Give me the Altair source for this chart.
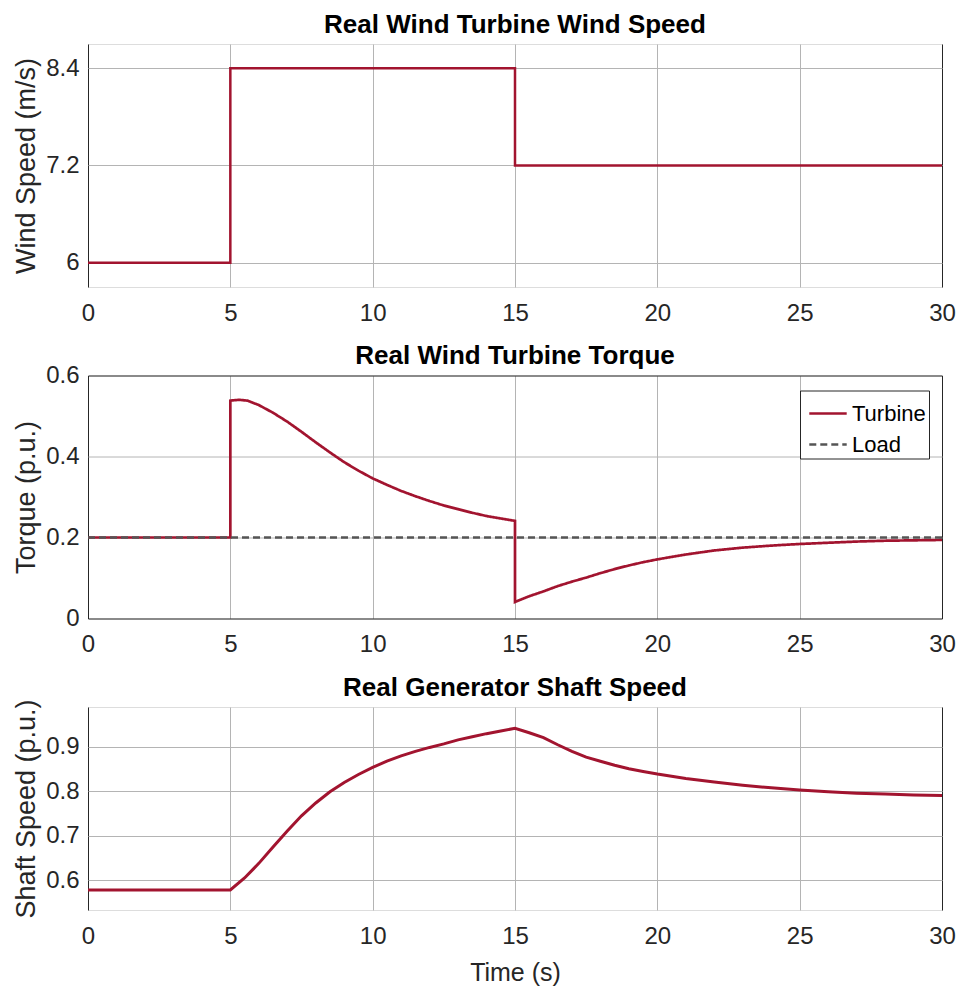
import altair as alt
import pandas as pd

# ---- data ----
wind_t = [0, 5, 5, 15, 15, 30]
wind_v = [6.0, 6.0, 8.4, 8.4, 7.2, 7.2]

torque_t = [0, 5, 5, 5.3, 5.6, 6.0, 6.5, 7.0, 7.5, 8.0, 8.5, 9.0, 9.5, 10, 10.5, 11, 11.5, 12, 12.5, 13,
            13.5, 14, 14.5, 15,
            15, 15.5, 16, 16.5, 17, 17.5, 18, 18.5, 19, 19.5, 20, 21, 22, 23, 24, 25, 26, 27, 28, 29, 30]
torque_v = [0.2, 0.2, 0.538, 0.540, 0.538, 0.527, 0.508, 0.486, 0.461, 0.435, 0.410, 0.386, 0.365, 0.346,
            0.330, 0.315, 0.302, 0.290, 0.279, 0.270, 0.261, 0.253, 0.247, 0.241,
            0.041, 0.055, 0.067, 0.080, 0.091, 0.101, 0.112, 0.122, 0.131, 0.139, 0.146, 0.158, 0.168,
            0.175, 0.180, 0.184, 0.187, 0.190, 0.192, 0.193, 0.194]

load_t = [0, 30]
load_v = [0.2, 0.2]

shaft_t = [0, 5, 5.5, 6, 6.5, 7, 7.5, 8, 8.5, 9, 9.5, 10, 10.5, 11, 11.5, 12, 12.5, 13, 13.5, 14, 14.5, 15,
           15.5, 16, 16.5, 17, 17.5, 18, 18.5, 19, 19.5, 20, 21, 22, 23, 24, 25, 26, 27, 28, 29, 30]
shaft_v = [0.578, 0.578, 0.605, 0.638, 0.675, 0.711, 0.745, 0.774, 0.799, 0.820, 0.838, 0.854, 0.868, 0.880,
           0.890, 0.899, 0.907, 0.916, 0.923, 0.930, 0.936, 0.942,
           0.932, 0.921, 0.905, 0.890, 0.877, 0.868, 0.859, 0.851, 0.845, 0.839, 0.829, 0.821, 0.814,
           0.808, 0.803, 0.799, 0.796, 0.794, 0.792, 0.791]

x_ticks = [0, 5, 10, 15, 20, 25, 30]
wind_ticks = [6, 7.2, 8.4]
torque_ticks = [0, 0.2, 0.4, 0.6]
shaft_ticks = [0.6, 0.7, 0.8, 0.9]

RED = "#A2142F"
GRAY = "#555555"
FRAME = "#262626"
GRID = "#b4b4b4"
FONT = "Liberation Sans"
W = 854


def grid_color(lo, hi):
    return {"condition": {"test": f"datum.value <= {lo} || datum.value >= {hi}", "value": FRAME},
            "value": GRID}


wind_df = pd.DataFrame({"t": wind_t, "v": wind_v})
torque_df = pd.concat([
    pd.DataFrame({"t": torque_t, "v": torque_v, "s": "Turbine"}),
    pd.DataFrame({"t": load_t, "v": load_v, "s": "Load"}),
], ignore_index=True)
torque_df["o"] = range(len(torque_df))
shaft_df = pd.DataFrame({"t": shaft_t, "v": shaft_v})


def xaxis(title=None):
    kw = dict(values=x_ticks, format="d", grid=True, ticks=False, domain=False, labelFlush=False,
              labelPadding=14, labelFontSize=24, labelColor="#262626", labelFont=FONT,
              gridColor=grid_color(0, 30), gridWidth=1)
    if title:
        return alt.Axis(title=title, titleFontSize=25, titleFontWeight="normal",
                        titleColor="#262626", titleFont=FONT, titlePadding=12, **kw)
    return alt.Axis(title=None, **kw)


def yaxis(title, ticks, lo, hi):
    return alt.Axis(title=title, values=ticks, labelExpr="'' + datum.value", grid=True, ticks=False,
                    domain=False, labelFlush=False, labelPadding=9, labelFontSize=24,
                    labelColor="#262626", labelFont=FONT, titleFontSize=27, titleFontWeight="normal",
                    titleColor="#262626", titleFont=FONT, titlePadding=5,
                    gridColor=grid_color(lo, hi), gridWidth=1)


def ttl(text, off):
    return alt.Title(text, fontSize=26, fontWeight="bold", font=FONT, color="#000000",
                     baseline="alphabetic", offset=off)


c1 = alt.Chart(wind_df, title=ttl("Real Wind Turbine Wind Speed", -14.5)).mark_line(
    color=RED, strokeWidth=2.5
).encode(
    x=alt.X("t:Q", scale=alt.Scale(domain=[0, 30], nice=False), axis=xaxis()),
    y=alt.Y("v:Q", scale=alt.Scale(domain=[5.7, 8.7], nice=False, zero=False),
            axis=yaxis("Wind Speed (m/s)", wind_ticks, 5.7, 8.7)),
    order="t:Q",
).properties(width=W, height=243)

leg = alt.Legend(title=None, orient="none", legendX=712, legendY=15,
                 symbolType="stroke", symbolSize=1400, symbolStrokeWidth=2.5,
                 labelFontSize=22, labelFont=FONT, labelColor="#000000",
                 strokeColor=FRAME, fillColor="white", padding=3,
                 rowPadding=-6, labelOffset=4, symbolOffset=5)

c2 = alt.Chart(torque_df, title=ttl("Real Wind Turbine Torque", -26.5)).mark_line(strokeWidth=2.7).encode(
    x=alt.X("t:Q", scale=alt.Scale(domain=[0, 30], nice=False), axis=xaxis()),
    y=alt.Y("v:Q", scale=alt.Scale(domain=[0, 0.6], nice=False),
            axis=yaxis("Torque (p.u.)", torque_ticks, 0, 0.6)),
    color=alt.Color("s:N", scale=alt.Scale(domain=["Turbine", "Load"], range=[RED, GRAY]), legend=leg),
    strokeDash=alt.StrokeDash("s:N", scale=alt.Scale(domain=["Turbine", "Load"],
                                                     range=[[1, 0], [7, 4]]), legend=leg),
    order="o:Q",
).properties(width=W, height=243)

c3 = alt.Chart(shaft_df, title=ttl("Real Generator Shaft Speed", -23)).mark_line(
    color=RED, strokeWidth=3
).encode(
    x=alt.X("t:Q", scale=alt.Scale(domain=[0, 30], nice=False), axis=xaxis("Time (s)")),
    y=alt.Y("v:Q", scale=alt.Scale(domain=[0.533, 0.99], nice=False, zero=False),
            axis=yaxis("Shaft Speed (p.u.)", shaft_ticks, 0.533, 0.99)),
    order="t:Q",
).properties(width=W, height=203)

chart = alt.vconcat(c1, c2, c3, spacing=16.5).resolve_scale(
    color="independent", strokeDash="independent"
).properties(
    padding={"left": 4, "top": 3, "right": 0, "bottom": 0}
).configure_view(stroke=FRAME, strokeWidth=1).configure(background="white")

chart.save("out.html", embed_options={"renderer": "svg", "actions": False})
